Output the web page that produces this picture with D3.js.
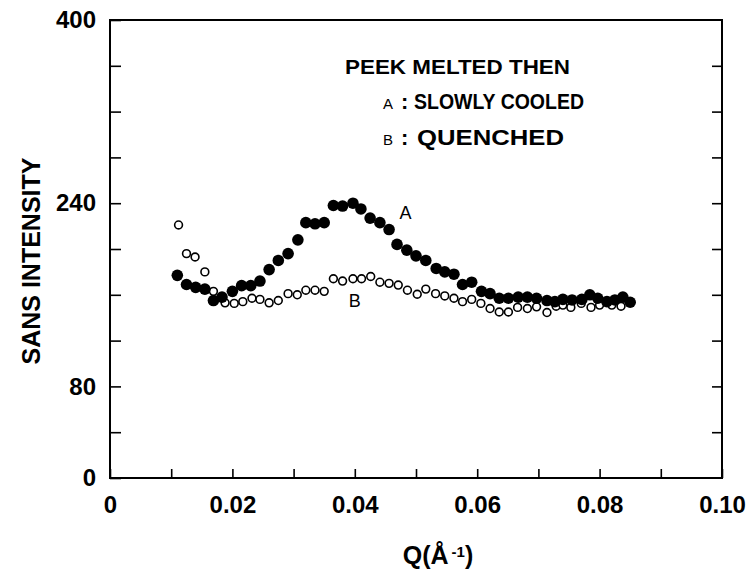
<!DOCTYPE html>
<html>
<head>
<meta charset="utf-8">
<script src="https://cdn.jsdelivr.net/npm/d3@7"></script>
<style>
  body { margin: 0; background: #fff; }
  text { font-family: "Liberation Sans", Arial, sans-serif; font-weight: bold; fill: #000; }
</style>
</head>
<body>
<div id="chart"></div>
<script>
// data: Q (1/A) and SANS intensity
var qA = [0.0110, 0.0125, 0.0140, 0.0155, 0.0169, 0.0183, 0.0200, 0.0215, 0.0230, 0.0245,
  0.0260, 0.0275, 0.0291, 0.0307, 0.0320, 0.0335, 0.0350, 0.0365, 0.0380, 0.0397,
  0.0410, 0.0425, 0.0441, 0.0456, 0.0469, 0.0485, 0.0500, 0.0516, 0.0533, 0.0547,
  0.0562, 0.0576, 0.0591, 0.0607, 0.0621, 0.0636, 0.0651, 0.0667, 0.0682, 0.0697,
  0.0714, 0.0727, 0.0740, 0.0755, 0.0771, 0.0784, 0.0797, 0.0812, 0.0825, 0.0838, 0.0850]
var intensityA = [177, 169, 166.5, 165, 155, 158, 163, 168, 168, 172,
  182, 190, 196, 208, 223, 222, 223, 238, 237.5, 240,
  235, 227, 223, 217, 204, 199, 194, 190, 183, 180,
  178, 169, 171, 163, 161, 157, 157, 158, 158, 157,
  155, 154, 156, 155.5, 156, 160, 157, 154, 155.5, 158, 153.5]

var qB = [0.0112, 0.0125, 0.0139, 0.0155, 0.0169, 0.0188, 0.0203, 0.0217, 0.0232, 0.0245,
  0.0260, 0.0275, 0.0291, 0.0306, 0.0320, 0.0335, 0.0350, 0.0365, 0.0380, 0.0397,
  0.0411, 0.0426, 0.0441, 0.0456, 0.0471, 0.0486, 0.0502, 0.0516, 0.0532, 0.0547,
  0.0562, 0.0576, 0.0591, 0.0606, 0.0621, 0.0636, 0.0651, 0.0666, 0.0682, 0.0697,
  0.0714, 0.0729, 0.0740, 0.0753, 0.0770, 0.0786, 0.0800, 0.0820, 0.0835]
var intensityB = [221, 196, 193, 180, 163, 153, 152.5, 154, 157, 156,
  153, 155, 161, 160, 164, 164, 163, 174, 172, 174,
  174, 176, 171, 170, 168.5, 164, 160.5, 165, 161, 159,
  157, 154, 156, 152.5, 148, 145, 145, 149, 148, 149.5,
  144.5, 150, 151, 149, 152.5, 149, 151, 151, 150]

var xTicks = [0, 0.01, 0.02, 0.03, 0.04, 0.05, 0.06, 0.07, 0.08, 0.09, 0.10]
var xLabels = ["0", "", "0.02", "", "0.04", "", "0.06", "", "0.08", "", "0.10"]
var yTicks = [0, 40, 80, 120, 160, 200, 240, 280, 320, 360, 400]
var yLabels = ["0", "", "80", "", "", "", "240", "", "", "", "400"]

var width = 751
var height = 571
var margin = { top: 20, right: 29, bottom: 93, left: 110 }
var w = width - margin.left - margin.right
var h = height - margin.top - margin.bottom

var svg = d3.select("#chart")
  .append("svg")
  .attr("width", width)
  .attr("height", height)

var g = svg.append("g")
  .attr("transform", "translate(" + margin.left + "," + margin.top + ")")

var x = d3.scaleLinear().domain([0, 0.10]).range([0, w])
var y = d3.scaleLinear().domain([0, 400]).range([h, 0])

// frame
g.append("rect")
  .attr("width", w)
  .attr("height", h)
  .attr("fill", "none")
  .attr("stroke", "#000")
  .attr("stroke-width", 2)

// bottom axis, ticks pointing inward
var xAxis = g.append("g")
  .attr("transform", "translate(0," + h + ")")
  .call(d3.axisBottom(x).tickValues(xTicks)
    .tickSizeInner(-9).tickSizeOuter(0).tickPadding(18)
    .tickFormat(function (d, i) { return xLabels[i] }))
xAxis.select(".domain").remove()
xAxis.selectAll("line").attr("stroke-width", 1.6)
xAxis.selectAll("text").style("font-size", "24px").attr("dy", "0.7em")

// left axis
var yAxis = g.append("g")
  .call(d3.axisLeft(y).tickValues(yTicks)
    .tickSizeInner(-11).tickSizeOuter(0).tickPadding(14)
    .tickFormat(function (d, i) { return yLabels[i] }))
yAxis.select(".domain").remove()
yAxis.selectAll("line").attr("stroke-width", 1.6)
yAxis.selectAll("text").style("font-size", "24px")

// right axis, unlabeled ticks
var rAxis = g.append("g")
  .attr("transform", "translate(" + w + ",0)")
  .call(d3.axisRight(y).tickValues(yTicks.slice(1, -1))
    .tickSizeInner(-10).tickSizeOuter(0).tickFormat(""))
rAxis.select(".domain").remove()
rAxis.selectAll("line").attr("stroke-width", 1.6)

// series B: open circles
g.selectAll(".ptB")
  .data(qB)
  .enter()
  .append("circle")
  .attr("class", "ptB")
  .attr("cx", function (d) { return x(d) })
  .attr("cy", function (d, i) { return y(intensityB[i]) })
  .attr("r", 3.9)
  .attr("fill", "#fff")
  .attr("stroke", "#000")
  .attr("stroke-width", 1.6)

// series A: filled circles
g.selectAll(".ptA")
  .data(qA)
  .enter()
  .append("circle")
  .attr("class", "ptA")
  .attr("cx", function (d) { return x(d) })
  .attr("cy", function (d, i) { return y(intensityA[i]) })
  .attr("r", 5.8)
  .attr("fill", "#000")

// curve labels
g.append("text").attr("x", x(0.0483)).attr("y", y(226)).attr("text-anchor", "middle")
  .style("font-size", "18px").style("font-weight", "normal").text("A")
g.append("text").attr("x", x(0.0400)).attr("y", y(149)).attr("text-anchor", "middle")
  .style("font-size", "18px").style("font-weight", "normal").text("B")

// legend
var leg = g.append("g")
leg.append("text").attr("x", 235).attr("y", 54).style("font-size", "21px")
  .attr("textLength", 225).attr("lengthAdjust", "spacingAndGlyphs").text("PEEK MELTED THEN")
leg.append("text").attr("x", 273).attr("y", 89).style("font-size", "15px").style("font-weight", "normal").text("A")
leg.append("text").attr("x", 291).attr("y", 89).style("font-size", "22px").text(":")
leg.append("text").attr("x", 304).attr("y", 89).style("font-size", "21.5px")
  .attr("textLength", 170).attr("lengthAdjust", "spacingAndGlyphs").text("SLOWLY COOLED")
leg.append("text").attr("x", 273).attr("y", 125).style("font-size", "15px").style("font-weight", "normal").text("B")
leg.append("text").attr("x", 291).attr("y", 125).style("font-size", "22px").text(":")
leg.append("text").attr("x", 307).attr("y", 125).style("font-size", "21.5px")
  .attr("textLength", 147).attr("lengthAdjust", "spacingAndGlyphs").text("QUENCHED")

// axis titles
svg.append("text")
  .attr("transform", "translate(40," + (margin.top + h / 2 + 12) + ") rotate(-90)")
  .attr("text-anchor", "middle")
  .style("font-size", "25px")
  .text("SANS INTENSITY")

var xt = svg.append("text")
  .attr("x", margin.left + w / 2 + 22)
  .attr("y", 564)
  .attr("text-anchor", "middle")
  .style("font-size", "25px")
xt.append("tspan").text("Q(Å")
xt.append("tspan").attr("dy", -7).attr("dx", 3).style("font-size", "15px").text("-1")
xt.append("tspan").attr("dy", 7).text(")")
</script>
</body>
</html>
